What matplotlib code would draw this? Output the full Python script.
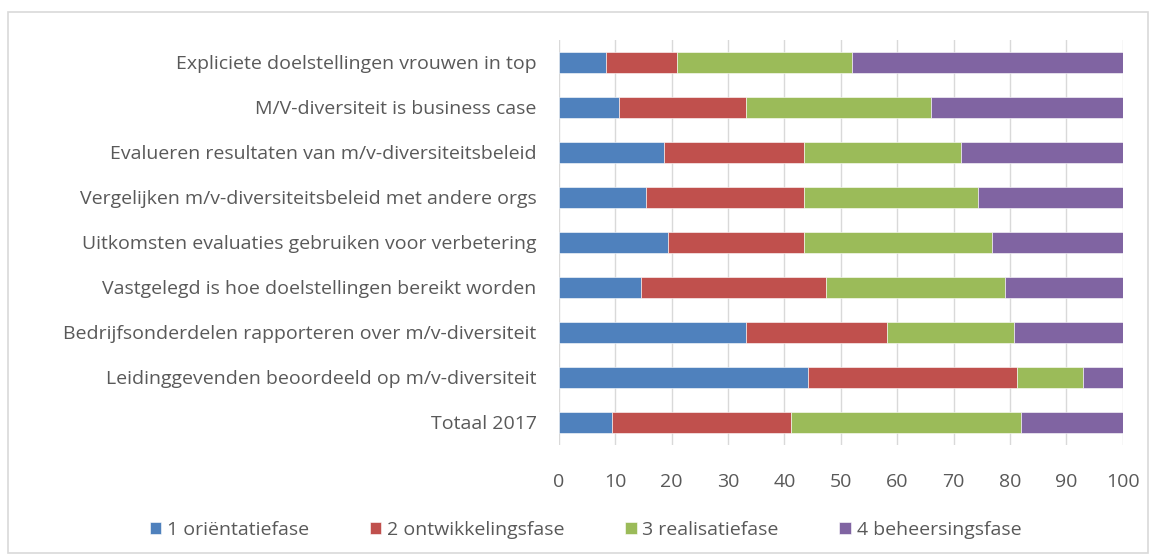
import matplotlib
matplotlib.use("Agg")
import matplotlib.pyplot as plt
from matplotlib.patches import Rectangle

categories = [
    "Expliciete doelstellingen vrouwen in top",
    "M/V-diversiteit is business case",
    "Evalueren resultaten van m/v-diversiteitsbeleid",
    "Vergelijken m/v-diversiteitsbeleid met andere orgs",
    "Uitkomsten evaluaties gebruiken voor verbetering",
    "Vastgelegd is hoe doelstellingen bereikt worden",
    "Bedrijfsonderdelen rapporteren over m/v-diversiteit",
    "Leidinggevenden beoordeeld op m/v-diversiteit",
    "Totaal 2017",
]
series_names = ["1 oriëntatiefase", "2 ontwikkelingsfase", "3 realisatiefase", "4 beheersingsfase"]
fase1 = [8.4, 10.7, 18.7, 15.5, 19.3, 14.6, 33.2, 44.1, 9.4]
fase2 = [12.5, 22.5, 24.7, 27.9, 24.1, 32.7, 25.0, 37.2, 31.7]
fase3 = [31.0, 32.7, 27.9, 30.9, 33.4, 31.8, 22.5, 11.6, 40.9]
fase4 = [48.1, 34.1, 28.7, 25.7, 23.2, 20.9, 19.3, 7.1, 18.0]
colors = ["#4f81bd", "#c0504d", "#9bbb59", "#8064a2"]

plt.rcParams["font.family"] = ["Open Sans", "DejaVu Sans"]
text_col = "#595959"

fig = plt.figure(figsize=(11.57, 5.6), dpi=100)
ax = fig.add_axes([0.483, 0.2054, 0.4875, 0.7232])

# light frame around the whole chart
fig.patches.append(Rectangle((0.007, 0.012), 0.985, 0.966, transform=fig.transFigure,
                             fill=False, edgecolor="#d9d9d9", linewidth=1.2))

y = list(range(len(categories)))[::-1]
left = [0] * len(categories)
for vals, name, c in zip([fase1, fase2, fase3, fase4], series_names, colors):
    ax.barh(y, vals, left=left, height=0.45, color=c, label=name,
            edgecolor="white", linewidth=0.4, zorder=3)
    left = [a + b for a, b in zip(left, vals)]

ax.set_xlim(0, 100)
ax.set_ylim(-0.5, len(categories) - 0.5)
ax.set_xticks(range(0, 101, 10))
ax.set_yticks(y)
ax.set_yticklabels(categories)
ax.tick_params(axis="both", length=0, colors=text_col, labelsize=14)
ax.tick_params(axis="y", pad=16)
ax.tick_params(axis="x", pad=20)
ax.grid(axis="x", color="#d9d9d9", linewidth=1, zorder=0)
for s in ax.spines.values():
    s.set_visible(False)

leg = fig.legend(loc="lower center", bbox_to_anchor=(0.506, 0.006), ncol=4, frameon=False,
                 handlelength=0.6, handleheight=0.6, handletextpad=0.3, columnspacing=3.1,
                 fontsize=14)
for t in leg.get_texts():
    t.set_color(text_col)

fig.savefig("out.png", dpi=100, facecolor="white")
